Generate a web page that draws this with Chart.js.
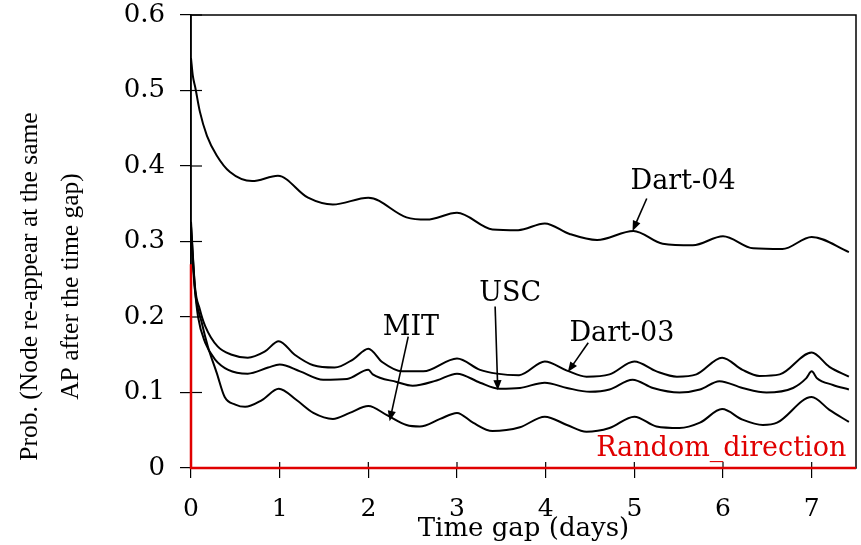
<!DOCTYPE html>
<html>
<head>
<meta charset="utf-8">
<script src="https://cdn.jsdelivr.net/npm/chart.js@4.4.1/dist/chart.umd.min.js"></script>
<style>
  html, body { margin: 0; padding: 0; background: #fff; }
</style>
</head>
<body>
<canvas id="chart" width="861" height="545"></canvas>
<script>
// valori
const dart04X = [0, 0.02, 0.05, 0.1, 0.18, 0.29, 0.44, 0.69, 0.98, 1.32, 1.6, 2.0, 2.43, 2.66, 3.0, 3.4, 3.69, 3.99, 4.27, 4.58, 4.99, 5.32, 5.66, 6.0, 6.34, 6.67, 7.0, 7.42];
const dart04Y = [0.543, 0.52, 0.503, 0.472, 0.44, 0.414, 0.392, 0.38, 0.387, 0.358, 0.349, 0.358, 0.332, 0.329, 0.338, 0.316, 0.315, 0.324, 0.31, 0.302, 0.314, 0.297, 0.295, 0.307, 0.291, 0.29, 0.306, 0.286];

const dart03X = [0, 0.045, 0.1, 0.16, 0.3, 0.46, 0.64, 0.83, 0.99, 1.17, 1.38, 1.62, 1.83, 2.0, 2.16, 2.38, 2.62, 3.0, 3.26, 3.45, 3.7, 3.99, 4.24, 4.46, 4.72, 5.0, 5.25, 5.48, 5.7, 5.99, 6.22, 6.41, 6.64, 7.0, 7.2, 7.42];
const dart03Y = [0.326, 0.24, 0.21, 0.188, 0.161, 0.15, 0.146, 0.154, 0.168, 0.15, 0.136, 0.133, 0.144, 0.158, 0.14, 0.128, 0.128, 0.145, 0.13, 0.125, 0.123, 0.141, 0.129, 0.121, 0.124, 0.141, 0.128, 0.121, 0.124, 0.146, 0.13, 0.122, 0.124, 0.153, 0.134, 0.121];

const uscX = [0, 0.045, 0.08, 0.16, 0.27, 0.42, 0.64, 0.87, 1.0, 1.23, 1.49, 1.76, 2.0, 2.05, 2.32, 2.5, 2.77, 3.0, 3.26, 3.48, 3.71, 3.99, 4.24, 4.5, 4.72, 4.98, 5.21, 5.51, 5.74, 5.96, 6.22, 6.49, 6.79, 6.94, 7.0, 7.06, 7.24, 7.42];
const uscY = [0.32, 0.237, 0.2, 0.166, 0.144, 0.13, 0.125, 0.133, 0.137, 0.128, 0.117, 0.118, 0.13, 0.124, 0.114, 0.109, 0.116, 0.125, 0.113, 0.105, 0.106, 0.113, 0.106, 0.101, 0.104, 0.117, 0.106, 0.1, 0.104, 0.115, 0.106, 0.1, 0.106, 0.119, 0.128, 0.119, 0.11, 0.104];

const mitX = [0, 0.045, 0.12, 0.19, 0.29, 0.38, 0.5, 0.61, 0.8, 0.99, 1.19, 1.38, 1.6, 1.79, 2.0, 2.21, 2.43, 2.58, 2.81, 3.0, 3.18, 3.4, 3.71, 3.99, 4.24, 4.46, 4.72, 5.0, 5.25, 5.51, 5.74, 5.99, 6.22, 6.45, 6.61, 7.0, 7.2, 7.42];
const mitY = [0.31, 0.235, 0.193, 0.161, 0.126, 0.094, 0.084, 0.081, 0.09, 0.105, 0.09, 0.073, 0.065, 0.073, 0.082, 0.07, 0.057, 0.055, 0.065, 0.073, 0.06, 0.049, 0.054, 0.068, 0.057, 0.048, 0.053, 0.068, 0.055, 0.053, 0.06, 0.078, 0.064, 0.057, 0.06, 0.094, 0.077, 0.061];

const randomX = [0, 0, 7.5];
const randomY = [0.27, 0, 0];

const yTicks = [0, 0.1, 0.2, 0.3, 0.4, 0.5, 0.6];
const xTicks = [0, 1, 2, 3, 4, 5, 6, 7];

// etichette con freccia: testo, posizione testo, inizio e fine freccia (in unità dati)
const labelText = ["Dart-04", "USC", "MIT", "Dart-03"];
const labelPos = [[5.55, 0.379], [3.6, 0.231], [2.48, 0.186], [4.86, 0.178]];
const arrowFrom = [[5.14, 0.357], [3.43, 0.214], [2.45, 0.174], [4.48, 0.166]];
const arrowTo = [[4.98, 0.314], [3.46, 0.103], [2.24, 0.062], [4.25, 0.127]];

const serif = "'DejaVu Serif', serif";
const toPts = (xs, ys) => xs.map((x, i) => ({ x, y: ys[i] }));

function drawArrow(ctx, x1, y1, x2, y2) {
  const ang = Math.atan2(y2 - y1, x2 - x1);
  const head = 11;
  ctx.beginPath();
  ctx.moveTo(x1, y1);
  ctx.lineTo(x2 - Math.cos(ang) * head * 0.8, y2 - Math.sin(ang) * head * 0.8);
  ctx.stroke();
  ctx.beginPath();
  ctx.moveTo(x2, y2);
  ctx.lineTo(x2 - head * Math.cos(ang - 0.38), y2 - head * Math.sin(ang - 0.38));
  ctx.lineTo(x2 - head * Math.cos(ang + 0.38), y2 - head * Math.sin(ang + 0.38));
  ctx.closePath();
  ctx.fill();
}

const extras = {
  id: "extras",
  beforeDatasetsDraw(chart) {
    const { ctx, chartArea: a, scales } = chart;
    ctx.save();
    ctx.strokeStyle = "#000";
    ctx.lineWidth = 1.5;
    ctx.strokeRect(a.left, a.top, a.right - a.left, a.bottom - a.top);
    ctx.lineWidth = 1.2;
    // tacche interne
    scales.y.ticks.forEach((t) => {
      const py = scales.y.getPixelForValue(t.value);
      ctx.beginPath();
      ctx.moveTo(a.left, py);
      ctx.lineTo(a.left + 11, py);
      ctx.stroke();
    });
    scales.x.ticks.forEach((t) => {
      const px = scales.x.getPixelForValue(t.value);
      ctx.beginPath();
      ctx.moveTo(px, a.bottom);
      ctx.lineTo(px, a.bottom - 6);
      ctx.stroke();
    });
    ctx.restore();
  },
  afterDraw(chart) {
    const { ctx, chartArea: a, scales } = chart;
    const X = (v) => scales.x.getPixelForValue(v);
    const Y = (v) => scales.y.getPixelForValue(v);
    ctx.save();
    ctx.font = "27px " + serif;
    ctx.textAlign = "center";
    ctx.textBaseline = "middle";
    ctx.fillStyle = "#000";
    ctx.strokeStyle = "#000";
    ctx.lineWidth = 1.6;
    labelText.forEach((txt, i) => {
      ctx.fillText(txt, X(labelPos[i][0]), Y(labelPos[i][1]));
      drawArrow(ctx, X(arrowFrom[i][0]), Y(arrowFrom[i][1]), X(arrowTo[i][0]), Y(arrowTo[i][1]));
    });
    ctx.fillStyle = "#e00000";
    ctx.fillText("Random_direction", X(5.98), Y(0.025));

    // titolo asse y su due righe
    ctx.fillStyle = "#000";
    ctx.font = "25.5px 'Liberation Serif', serif";
    const cy = (a.top + a.bottom) / 2 + 45;
    [["Prob. (Node re-appear at the same", a.left - 161], ["AP after the time gap)", a.left - 120]].forEach(([txt, cx]) => {
      ctx.save();
      ctx.translate(cx, cy);
      ctx.rotate(-Math.PI / 2);
      ctx.fillText(txt, 0, 0);
      ctx.restore();
    });
    ctx.restore();
  },
};

const blackLine = (label, xs, ys) => ({
  label,
  data: toPts(xs, ys),
  borderColor: "#000",
  borderWidth: 2,
  pointRadius: 0,
  cubicInterpolationMode: "monotone",
});

new Chart(document.getElementById("chart"), {
  type: "line",
  data: {
    datasets: [
      blackLine("Dart-04", dart04X, dart04Y),
      blackLine("Dart-03", dart03X, dart03Y),
      blackLine("USC", uscX, uscY),
      blackLine("MIT", mitX, mitY),
      {
        label: "Random_direction",
        data: toPts(randomX, randomY),
        borderColor: "#e00000",
        borderWidth: 2.5,
        pointRadius: 0,
        tension: 0,
        clip: 4,
      },
    ],
  },
  options: {
    responsive: false,
    animation: false,
    devicePixelRatio: 1,
    layout: { padding: { top: 15, right: 5, left: 0, bottom: 0 } },
    plugins: { legend: { display: false }, tooltip: { enabled: false } },
    scales: {
      x: {
        type: "linear",
        min: 0,
        max: 7.5,
        afterBuildTicks: (s) => {
          s.ticks = xTicks.map((v) => ({ value: v }));
        },
        afterFit: (s) => {
          s.height = 77;
          s.paddingLeft = 0;
          s.paddingRight = 0;
        },
        grid: { drawOnChartArea: false, tickLength: 10, color: "#000", lineWidth: 1.2 },
        border: { color: "#000", width: 1.5 },
        ticks: { font: { family: serif, size: 25 }, color: "#000", padding: 16, maxRotation: 0 },
        title: {
          display: true,
          text: "Time gap (days)",
          font: { family: serif, size: 26 },
          color: "#000",
          padding: { top: 0, bottom: 0 },
        },
      },
      y: {
        min: 0,
        max: 0.6,
        afterBuildTicks: (s) => {
          s.ticks = yTicks.map((v) => ({ value: v }));
        },
        afterFit: (s) => {
          s.width = 191;
          s.paddingTop = 0;
          s.paddingBottom = 0;
        },
        grid: { drawOnChartArea: false, tickLength: 11, color: "#000", lineWidth: 1.2 },
        border: { color: "#000", width: 1.5 },
        ticks: {
          font: { family: serif, size: 26 },
          color: "#000",
          padding: 15,
          callback: (v) => (v === 0 ? "0" : v.toFixed(1)),
        },
      },
    },
  },
  plugins: [extras],
});
</script>
</body>
</html>
